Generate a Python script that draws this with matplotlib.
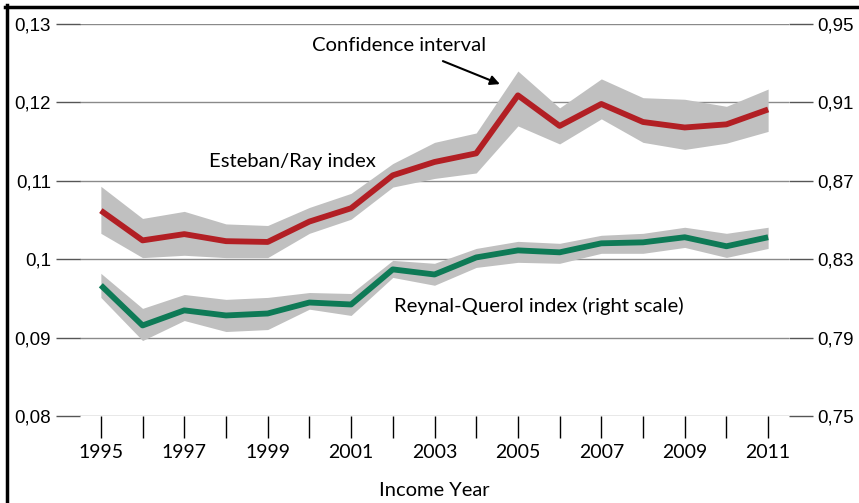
import matplotlib.pyplot as plt
from matplotlib.lines import Line2D

years = list(range(1995, 2012))

# Esteban/Ray index (left scale)
er = [0.1062, 0.1024, 0.1032, 0.1023, 0.1022, 0.1048, 0.1065, 0.1107, 0.1124,
      0.1135, 0.1209, 0.1170, 0.1198, 0.1175, 0.1168, 0.1172, 0.1191]
er_hi = [0.1093, 0.1052, 0.1061, 0.1045, 0.1043, 0.1066, 0.1084, 0.1122, 0.1149,
         0.1161, 0.1240, 0.1193, 0.1230, 0.1206, 0.1204, 0.1195, 0.1217]
er_lo = [0.1033, 0.1002, 0.1005, 0.1002, 0.1002, 0.1033, 0.1051, 0.1092, 0.1103,
         0.1110, 0.1170, 0.1147, 0.1179, 0.1149, 0.1140, 0.1148, 0.1163]

# Reynal-Querol index (right scale)
rq = [0.8167, 0.7962, 0.8039, 0.8013, 0.8023, 0.8079, 0.8069, 0.8248, 0.8222,
      0.8309, 0.8345, 0.8335, 0.8381, 0.8386, 0.8412, 0.8366, 0.8412]
rq_hi = [0.8228, 0.8049, 0.8120, 0.8095, 0.8105, 0.8130, 0.8125, 0.8294, 0.8279,
         0.8355, 0.8391, 0.8381, 0.8422, 0.8432, 0.8463, 0.8432, 0.8463]
rq_lo = [0.8105, 0.7885, 0.7987, 0.7931, 0.7941, 0.8045, 0.8013, 0.8207, 0.8167,
         0.8258, 0.8284, 0.8279, 0.8330, 0.8330, 0.8360, 0.8309, 0.8355]

left_ticks = [0.08, 0.09, 0.10, 0.11, 0.12, 0.13]
left_labels = ['0,08', '0,09', '0,1', '0,11', '0,12', '0,13']
right_ticks = [0.75, 0.79, 0.83, 0.87, 0.91, 0.95]
right_labels = ['0,75', '0,79', '0,83', '0,87', '0,91', '0,95']

txt_font = 'Lato'
num_font = 'Liberation Sans'
red = '#B21F24'
green = '#0E7A56'
band = '#C0C0C0'

fig = plt.figure(figsize=(8.59, 5.03), dpi=100)
ax = fig.add_axes([80/859, 1-416/503, 709/859, 392/503])

ax.fill_between(years, er_lo, er_hi, color=band, lw=0, zorder=2)
ax.plot(years, er, color=red, lw=4.2, zorder=3, solid_capstyle='butt')
ax.set_xlim(1994.5, 2011.5)
ax.set_ylim(0.08, 0.13)
ax.set_yticks(left_ticks)
ax.set_yticklabels(left_labels, fontfamily=num_font, fontsize=13.5)
ax.grid(axis='y', color='#8a8a8a', lw=1.0, zorder=0)
ax.set_xticks(years)
ax.set_xticklabels([str(y) if y % 2 == 1 else '' for y in years], fontfamily=txt_font, fontsize=14)
ax.tick_params(axis='x', direction='out', length=16, width=1, color='black', pad=4)
ax.tick_params(axis='y', direction='out', length=17, width=1, color='#555555', pad=4)
for s in ax.spines.values():
    s.set_visible(False)
ax.set_xlabel('Income Year', fontfamily=txt_font, fontsize=14.5, labelpad=15)

ax2 = ax.twinx()
ax2.fill_between(years, rq_lo, rq_hi, color=band, lw=0, zorder=2)
ax2.plot(years, rq, color=green, lw=4.2, zorder=3, solid_capstyle='butt')
ax2.set_ylim(0.75, 0.95)
ax2.set_yticks(right_ticks)
ax2.set_yticklabels(right_labels, fontfamily=num_font, fontsize=13.5)
ax2.tick_params(axis='y', direction='out', length=17, width=1, color='#555555', pad=3)
for s in ax2.spines.values():
    s.set_visible(False)

ax.text(1999.6, 0.1124, 'Esteban/Ray index', ha='center', va='center',
        fontfamily=txt_font, fontsize=14.6, zorder=5)
ax.text(2005.5, 0.0940, 'Reynal-Querol index (right scale)', ha='center', va='center',
        fontfamily=txt_font, fontsize=14.6, zorder=5)
ax.text(2002.14, 0.1272, 'Confidence interval', ha='center', va='center',
        fontfamily=txt_font, fontsize=14.6, zorder=5)
ax.annotate('', xy=(2004.63, 0.1222), xytext=(2003.14, 0.1254),
            arrowprops=dict(arrowstyle='-|>', color='black', lw=1.5, mutation_scale=14))

# frame lines of the figure (left and top)
fig.add_artist(Line2D([6.5/859, 6.5/859], [0, 1-5/503], color='black', lw=2.5))
fig.add_artist(Line2D([5/859, 1], [1-6.5/503, 1-6.5/503], color='black', lw=2.5))

fig.savefig('out.png', dpi=100)
